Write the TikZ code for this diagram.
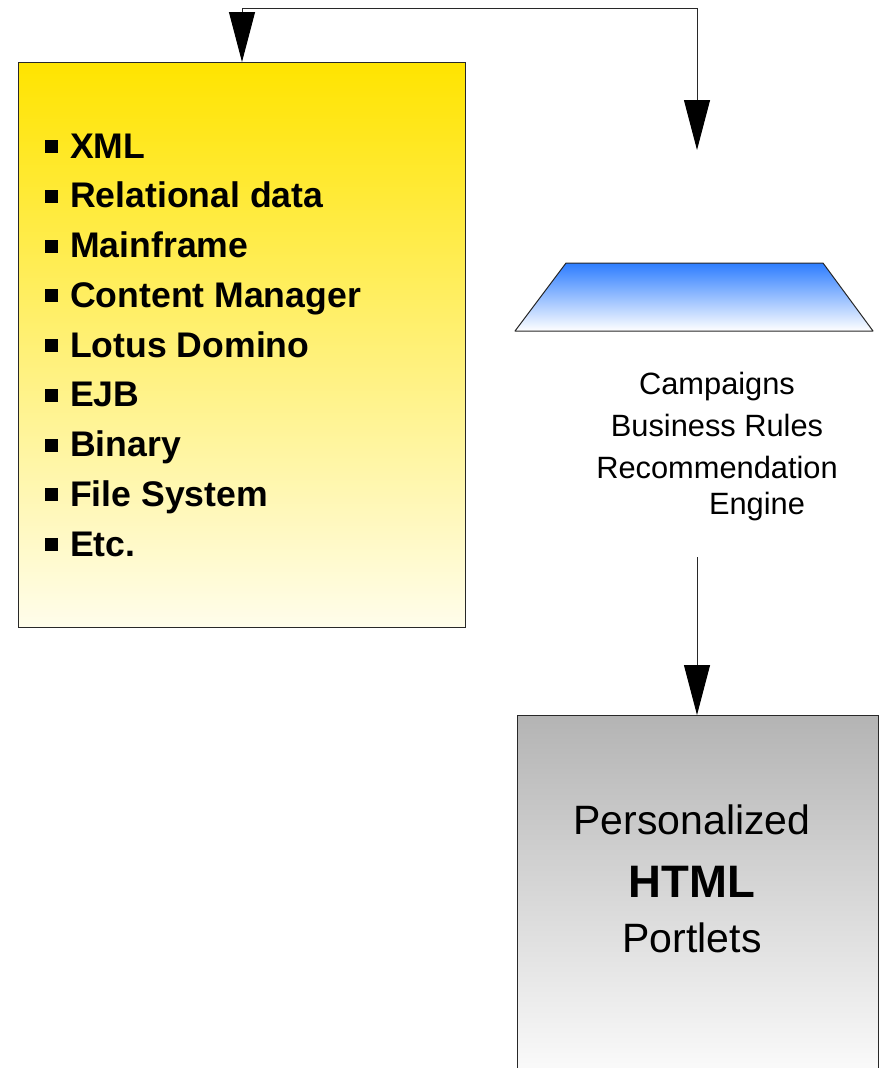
\documentclass[tikz,border=0pt]{standalone}
\usepackage{fontspec}
\setmainfont{Liberation Sans}
\usetikzlibrary{arrows.meta}
\definecolor{ytop}{RGB}{255,228,0}
\definecolor{ybot}{RGB}{255,253,235}
\definecolor{btop}{RGB}{45,125,255}
\definecolor{gtop}{RGB}{180,180,180}
\definecolor{gbot}{RGB}{253,253,253}
\definecolor{edge}{RGB}{40,40,40}
\tikzset{
  conn/.style={draw=edge, line width=1pt},
  bigtip/.tip={Triangle[length=50pt,width=26pt,fill=black,color=black]},
  boxline/.style={draw=edge, line width=1pt},
  item/.style={anchor=base west, inner sep=0pt, font=\fontsize{35.6}{40}\selectfont\bfseries},
  bul/.style={fill=black, minimum size=13pt, inner sep=0pt},
  eng/.style={anchor=base, inner sep=0pt, font=\fontsize{30.8}{36}\selectfont},
}
\begin{document}
\begin{tikzpicture}[x=1pt,y=-1pt]
\useasboundingbox (0,0) rectangle (882,1068);
\clip (0,0) rectangle (882,1068);
% source box
\node[boxline, rectangle, top color=ytop, bottom color=ybot, minimum width=447pt, minimum height=565pt, inner sep=0pt, anchor=north west] (src) at (18,62) {};
\foreach \t [count=\i from 0] in {XML,Relational data,Mainframe,Content Manager,Lotus Domino,EJB,Binary,File System,Etc.}{
  \node[item] (it\i) at (70,158+49.75*\i) {\t};
  \node[bul] (b\i) at (51.5,146.5+49.75*\i) {};
}
% engine trapezoid
\coordinate (t1) at (566,263);
\coordinate (t2) at (823,263);
\coordinate (t3) at (873,331);
\coordinate (t4) at (515,331);
\shade[top color=btop, bottom color=white] (t1) -- (t2) -- (t3) -- (t4) -- cycle;
\draw[boxline, line join=round] (t1) -- (t2) -- (t3) -- (t4) -- cycle;
\node[eng] (e1) at (717,394) {Campaigns};
\node[eng] (e2) at (717,436) {Business Rules};
\node[eng] (e3) at (717,478) {Recommendation};
\node[eng] (e4) at (757,514) {Engine};
% output box
\node[boxline, rectangle, top color=gtop, bottom color=gbot, minimum width=361pt, minimum height=370pt, inner sep=0pt, anchor=north west] (out) at (517,715) {};
\node[anchor=base, inner sep=0pt, font=\fontsize{41}{46}\selectfont] (o1) at (692,834) {Personalized};
\node[anchor=base, inner sep=0pt, font=\fontsize{45.5}{50}\selectfont\bfseries] (o2) at (692,897) {HTML};
\node[anchor=base, inner sep=0pt, font=\fontsize{41}{46}\selectfont] (o3) at (692,952) {Portlets};
% connectors
\coordinate (bend) at (697,8);
\coordinate (rtip) at (697,150);
\coordinate (dstart) at (697,557);
\draw[conn, {bigtip}-{bigtip}] (src.north) |- (bend) -- (rtip);
\draw[conn, -{bigtip}] (dstart) -- (dstart |- out.north);
\end{tikzpicture}
\end{document}
